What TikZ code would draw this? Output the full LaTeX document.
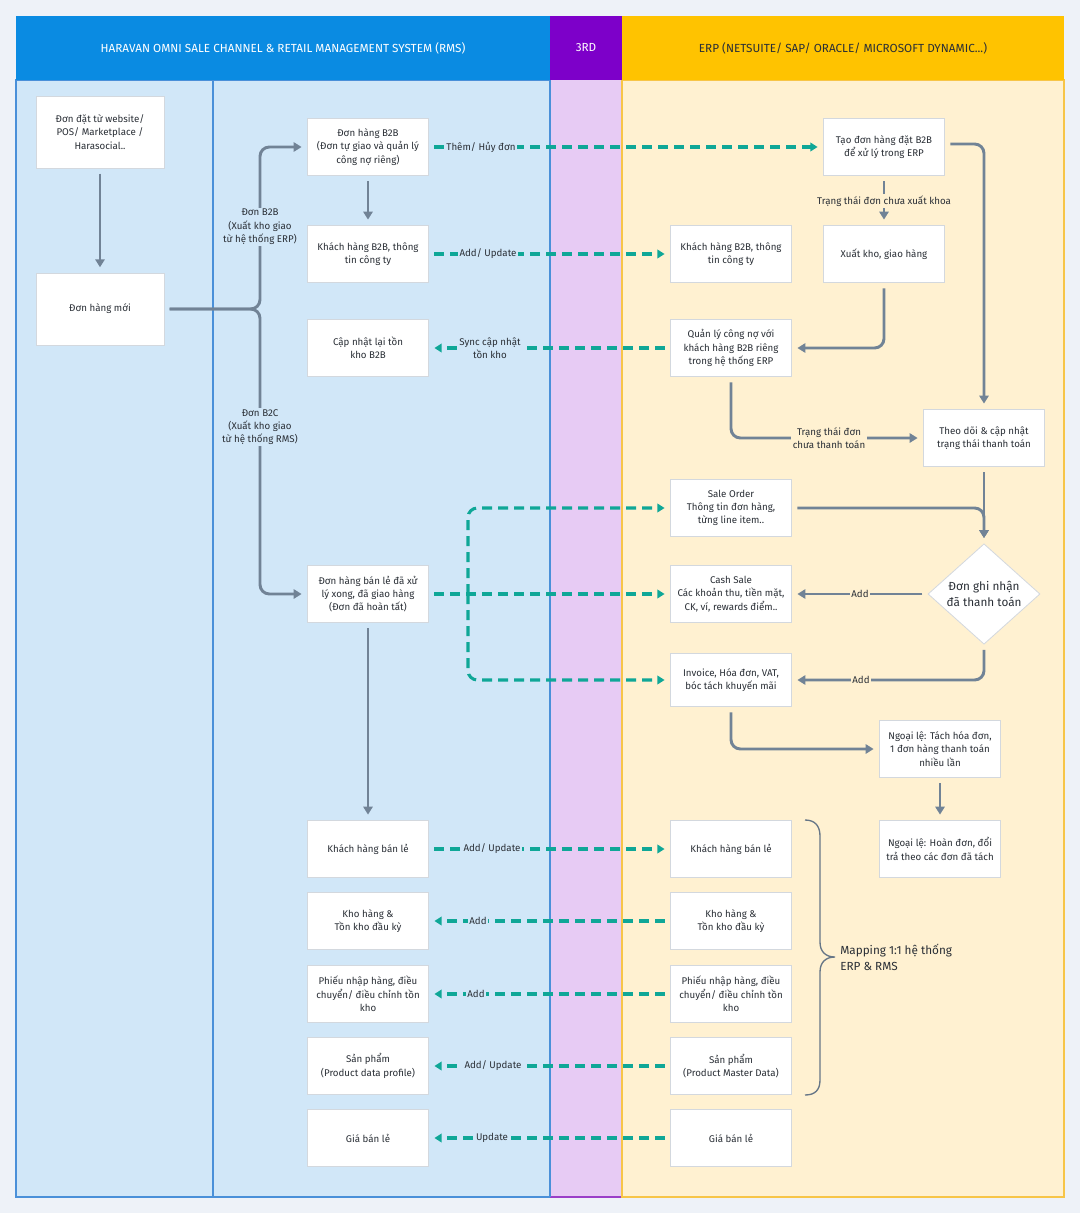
\documentclass[tikz,border=0pt]{standalone}
\usepackage{fontspec}
\setmainfont{Fira Sans}
\usetikzlibrary{arrows.meta,shapes.geometric}
\definecolor{pagebg}{HTML}{EEF2F8}
\definecolor{hblue}{HTML}{0A8BE2}
\definecolor{hpurple}{HTML}{7D00C9}
\definecolor{hyellow}{HTML}{FFC300}
\definecolor{lblue}{HTML}{D1E7F8}
\definecolor{lpurple}{HTML}{E7CBF4}
\definecolor{lyellow}{HTML}{FFF1D1}
\definecolor{bblue}{HTML}{4A90D9}
\definecolor{bpurple}{HTML}{9B3FC8}
\definecolor{byellow}{HTML}{F7C548}
\definecolor{boxline}{HTML}{D3D8DE}
\definecolor{txt}{HTML}{2A2F36}
\definecolor{garr}{HTML}{718396}
\definecolor{tealc}{HTML}{0FA797}
\begin{document}
\begin{tikzpicture}[x=0.75pt,y=-0.75pt,
  box/.style={draw=boxline, line width=0.6pt, fill=white, minimum width=91pt, minimum height=43pt,
    align=center, font=\fontsize{7.3}{10}\selectfont, text=txt, inner sep=1pt},
  bigbox/.style={box, minimum width=96pt, minimum height=54pt},
  garrow/.style={draw=garr, line width=2.2pt, rounded corners=7pt, -{Triangle[length=6pt,width=7pt]}},
  tarrow/.style={draw=tealc, line width=2.3pt, dash pattern=on 7.5pt off 4.5pt, -{Triangle[length=5.5pt,width=6.5pt]}},
  lbl/.style={font=\fontsize{7.3}{10}\selectfont, text=txt, inner sep=1.2pt, align=center},
  lblb/.style={lbl, fill=lblue},
  lbly/.style={lbl, fill=lyellow},
  hdr/.style={font=\fontsize{8.8}{10}\selectfont}
]
\useasboundingbox (0,0) rectangle (1080,1213);
\fill[pagebg] (0,0) rectangle (1080,1213);

% lanes
\fill[lblue] (16,80) rectangle (550,1197);
\fill[lpurple] (550,80) rectangle (622,1197);
\fill[lyellow] (622,80) rectangle (1064,1197);
\draw[bblue, line width=1pt] (16,80) rectangle (213,1197);
\draw[bblue, line width=1pt] (213,80) rectangle (550,1197);
\draw[bpurple, line width=1pt] (550,1197) -- (622,1197);
\draw[byellow, line width=1pt] (622,80) rectangle (1064,1197);
\draw[bblue, line width=1pt] (550,80) -- (550,1197);

% headers
\fill[hblue] (16,16) rectangle (550,80);
\fill[hpurple] (550,16) rectangle (622,80);
\fill[hyellow] (622,16) rectangle (1064,80);
\node[hdr, text=white] (h1) at (283,48) {HARAVAN OMNI SALE CHANNEL \& RETAIL MANAGEMENT SYSTEM (RMS)};
\node[hdr, text=white] (h2) at (586,48) {3RD};
\node[hdr, text=txt] (h3) at (843,48) {ERP (NETSUITE/ SAP/ ORACLE/ MICROSOFT DYNAMIC...)};

% lane 1
\node[bigbox] (n1) at (100,132) {Đơn đặt từ website/\\POS/ Marketplace /\\Harasocial..};
\node[bigbox] (n2) at (100,309) {Đơn hàng mới};

% lane 2
\node[box] (b2b) at (368,147) {Đơn hàng B2B\\(Đơn tự giao và quản lý\\công nợ riêng)};
\node[box] (khb2b) at (368,254) {Khách hàng B2B, thông\\tin công ty};
\node[box] (capnhat) at (368,348) {Cập nhật lại tồn\\kho B2B};
\node[box] (banle) at (368,594) {Đơn hàng bán lẻ đã xử\\lý xong, đã giao hàng\\(Đơn đã hoàn tất)};
\node[box] (khbl) at (368,849) {Khách hàng bán lẻ};
\node[box] (kho) at (368,921) {Kho hàng \&\\Tồn kho đầu kỳ};
\node[box] (phieu) at (368,994) {Phiếu nhập hàng, điều\\chuyển/ điều chỉnh tồn\\kho};
\node[box] (sp) at (368,1066) {Sản phẩm\\(Product data profile)};
\node[box] (gia) at (368,1138) {Giá bán lẻ};

% lane 4 col A
\node[box] (khb2be) at (731,254) {Khách hàng B2B, thông\\tin công ty};
\node[box] (qlcn) at (731,348) {Quản lý công nợ với\\khách hàng B2B riêng\\trong hệ thống ERP};
\node[box] (so) at (731,508) {Sale Order\\Thông tin đơn hàng,\\từng line item..};
\node[box] (cash) at (731,594) {Cash Sale\\Các khoản thu, tiền mặt,\\CK, ví, rewards điểm..};
\node[box, minimum height=40pt] (inv) at (731,680) {Invoice, Hóa đơn, VAT,\\bóc tách khuyến mãi};
\node[box] (khble) at (731,849) {Khách hàng bán lẻ};
\node[box] (khoe) at (731,921) {Kho hàng \&\\Tồn kho đầu kỳ};
\node[box] (phieue) at (731,994) {Phiếu nhập hàng, điều\\chuyển/ điều chỉnh tồn\\kho};
\node[box] (spe) at (731,1066) {Sản phẩm\\(Product Master Data)};
\node[box] (giae) at (731,1138) {Giá bán lẻ};

% lane 4 col B / C
\node[box] (tao) at (884,147) {Tạo đơn hàng đặt B2B\\để xử lý trong ERP};
\node[box] (xuat) at (884,254) {Xuất kho, giao hàng};
\node[box] (theodoi) at (984,438) {Theo dõi \& cập nhật\\trạng thái thanh toán};
\node[draw=boxline, line width=0.6pt, fill=white, diamond, minimum width=84pt, minimum height=69pt,
  inner sep=0pt, align=center, font=\fontsize{8.8}{12}\selectfont, text=txt] (dia) at (984,594) {Đơn ghi nhận\\đã thanh toán};
\node[box] (ng1) at (940,749) {Ngoại lệ: Tách hóa đơn,\\1 đơn hàng thanh toán\\nhiều lần};
\node[box] (ng2) at (940,849) {Ngoại lệ: Hoàn đơn, đổi\\trả theo các đơn đã tách};

% grey connectors
\coordinate (j) at (260,309);
\draw[garrow, shorten <=4pt, shorten >=4pt] (n1.south) -- (n2.north);
\draw[garrow, shorten <=4pt, shorten >=4pt] (n2.east) -- (j) |- (b2b.west);
\draw[garrow, shorten <=4pt, shorten >=4pt] (n2.east) -- (j) |- (banle.west);
\node[lblb] (lb2b) at (260,227) {Đơn B2B\\(Xuất kho giao\\từ hệ thống ERP)};
\node[lblb] (lb2c) at (260,427) {Đơn B2C\\(Xuất kho giao\\từ hệ thống RMS)};
\draw[garrow, shorten <=4pt, shorten >=4pt] (b2b.south) -- (khb2b.north);
\draw[garrow, shorten <=4pt, shorten >=4pt] (banle.south) -- (khbl.north);

\coordinate (c1) at (984,144);
\draw[garrow, shorten <=4pt, shorten >=4pt] (tao.east |- c1) -- (c1) -- (theodoi.north);
\draw[garrow, shorten <=4pt, shorten >=4pt] (tao.south) -- (xuat.north);
\node[lbly] (ltao) at (884,201) {Trạng thái đơn chưa xuất khoa};
\draw[garrow, shorten <=4pt, shorten >=4pt] (xuat.south) |- (qlcn.east);
\draw[garrow, shorten <=4pt, shorten >=4pt] (qlcn.south) |- (theodoi.west);
\node[lbly] (lqlcn) at (829,438) {Trạng thái đơn\\chưa thanh toán};
\draw[garrow, shorten <=4pt, shorten >=4pt] (theodoi.south) -- (dia.north);
\draw[garrow, shorten <=4pt, shorten >=4pt] (so.east) -| (dia.north);
\draw[garrow, shorten <=4pt, shorten >=4pt] (dia.west) -- (cash.east);
\node[lbly] (ladd1) at (860,594) {Add};
\draw[garrow, shorten <=4pt, shorten >=4pt] (dia.south) |- (inv.east);
\node[lbly] (ladd2) at (861,680) {Add};
\draw[garrow, shorten <=4pt, shorten >=4pt] (inv.south) |- (ng1.west);
\draw[garrow, shorten <=4pt, shorten >=4pt] (ng1.south) -- (ng2.north);

% teal dashed connectors
\draw[tarrow, shorten <=4pt, shorten >=4pt] (b2b.east) -- (tao.west);
\node[lblb] (lthem) at (481,147) {Thêm/ Hủy đơn};
\draw[tarrow, shorten <=4pt, shorten >=4pt] (khb2b.east) -- (khb2be.west);
\node[lblb] (lau1) at (488,254) {Add/ Update};
\draw[tarrow, shorten <=4pt, shorten >=4pt] (qlcn.west) -- (capnhat.east);
\node[lblb] (lsync) at (490,348) {Sync cập nhật\\tồn kho};

\coordinate (br) at (468,594);
\draw[tarrow, shorten <=4pt, shorten >=4pt] (banle.east) -- (cash.west);
\draw[tarrow, rounded corners=7pt, shorten >=4pt] (br) |- (so.west);
\draw[tarrow, rounded corners=7pt, shorten >=4pt] (br) |- (inv.west);

\draw[tarrow, shorten <=4pt, shorten >=4pt] (khbl.east) -- (khble.west);
\node[lblb] (lau2) at (492,849) {Add/ Update};
\draw[tarrow, shorten <=4pt, shorten >=4pt] (khoe.west) -- (kho.east);
\node[lblb] (ladd3) at (478,921) {Add};
\draw[tarrow, shorten <=4pt, shorten >=4pt] (phieue.west) -- (phieu.east);
\node[lblb] (ladd4) at (476,994) {Add};
\draw[tarrow, shorten <=4pt, shorten >=4pt] (spe.west) -- (sp.east);
\node[lblb] (lau3) at (493,1066) {Add/ Update};
\draw[tarrow, shorten <=4pt, shorten >=4pt] (giae.west) -- (gia.east);
\node[lblb] (lupd) at (492,1138) {Update};

% brace
\draw[garr!90!black, line width=1pt] (805,820) .. controls (815,820) and (820,826) .. (820,836) -- (820,942)
  .. controls (820,952) and (826,957) .. (835,957) .. controls (826,957) and (820,962) .. (820,972)
  -- (820,1080) .. controls (820,1090) and (815,1095) .. (805,1095);
\node[anchor=west, align=left, font=\fontsize{8.8}{12}\selectfont, text=txt, inner sep=0pt] (map) at (840,957) {Mapping 1:1 hệ thống\\ERP \& RMS};
\end{tikzpicture}
\end{document}
